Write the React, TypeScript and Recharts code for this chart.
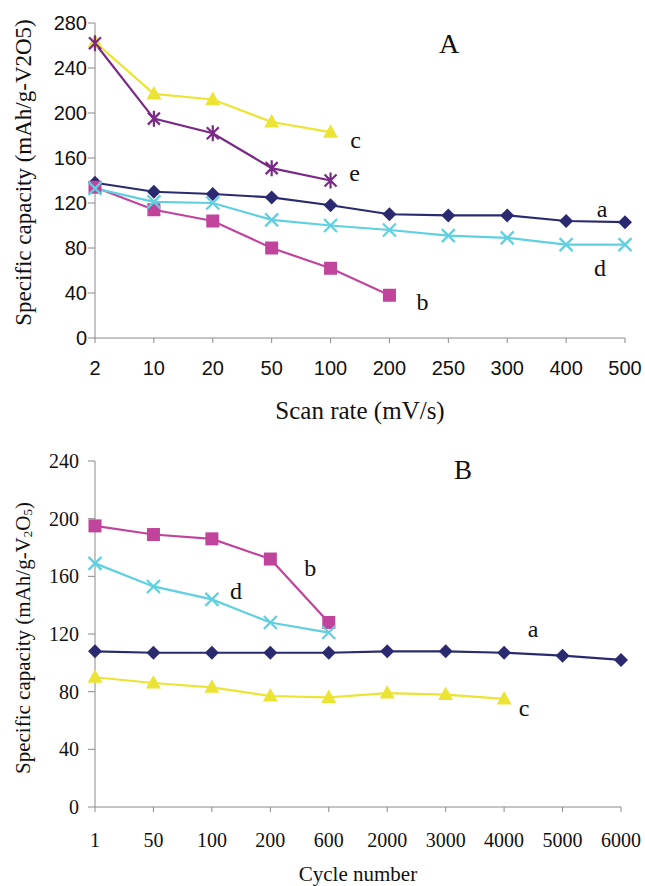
import { LineChart, Line, XAxis, YAxis } from 'recharts';

// panel A: capacity vs scan rate
const rateCategories = ['2', '10', '20', '50', '100', '200', '250', '300', '400', '500'];
const rateA = [138, 130, 128, 125, 118, 110, 109, 109, 104, 103];
const rateB = [134, 114, 104, 80, 62, 38];
const rateC = [263, 217, 212, 192, 183];
const rateD = [133, 121, 120, 105, 100, 96, 91, 89, 83, 83];
const rateE = [262, 195, 182, 151, 140];
const rateTicks = [0, 40, 80, 120, 160, 200, 240, 280];

// panel B: capacity vs cycle number
const cycleCategories = ['1', '50', '100', '200', '600', '2000', '3000', '4000', '5000', '6000'];
const cycleA = [108, 107, 107, 107, 107, 108, 108, 107, 105, 102];
const cycleB = [195, 189, 186, 172, 128];
const cycleC = [90, 86, 83, 77, 76, 79, 78, 75];
const cycleD = [169, 153, 144, 128, 121];
const cycleTicks = [0, 40, 80, 120, 160, 200, 240];

const NAVY = '#2b2a70';
const MAGENTA = '#c1449c';
const YELLOW = '#ebe434';
const CYAN = '#5fd0e0';
const PURPLE = '#7a2a86';
const AXIS = '#8a8a8a';
const SERIF = '"Liberation Serif", "Times New Roman", serif';
const SANS = '"Liberation Sans", Arial, sans-serif';

type Row = Record<string, string | number | null>;

function buildRows(cats: string[], series: Record<string, number[]>): Row[] {
  return cats.map((cat, i) => {
    const row: Row = { cat };
    for (const k of Object.keys(series)) row[k] = series[k][i] ?? null;
    return row;
  });
}

const rateRows = buildRows(rateCategories, { a: rateA, b: rateB, c: rateC, d: rateD, e: rateE });
const cycleRows = buildRows(cycleCategories, { a: cycleA, b: cycleB, c: cycleC, d: cycleD });

type Shape = 'diamond' | 'square' | 'triangle' | 'cross' | 'star';
type Tag = { text: string; index: number; dx: number; dy: number };

function marker(shape: Shape, x: number, y: number, color: string) {
  switch (shape) {
    case 'diamond':
      return <path d={`M${x},${y - 7}L${x + 7},${y}L${x},${y + 7}L${x - 7},${y}Z`} fill={color} />;
    case 'square':
      return <rect x={x - 6.5} y={y - 6.5} width={13} height={13} fill={color} />;
    case 'triangle':
      return <path d={`M${x},${y - 8}L${x + 7.5},${y + 5.5}L${x - 7.5},${y + 5.5}Z`} fill={color} />;
    case 'cross':
      return (
        <path d={`M${x - 6.5},${y - 6.5}L${x + 6.5},${y + 6.5}M${x + 6.5},${y - 6.5}L${x - 6.5},${y + 6.5}`}
          stroke={color} strokeWidth={2.2} />
      );
    case 'star':
      return (
        <path
          d={`M${x - 6},${y - 6}L${x + 6},${y + 6}M${x + 6},${y - 6}L${x - 6},${y + 6}M${x},${y - 8}L${x},${y + 8}`}
          stroke={color} strokeWidth={2.2} />
      );
  }
}

function makeDot(shape: Shape, color: string, tag: Tag, tagSize: number) {
  return (props: any) => {
    const { cx, cy, index } = props;
    if (cx == null || cy == null || props.value == null) return <g key={`n-${index}`} />;
    return (
      <g key={`p-${index}`}>
        {marker(shape, cx, cy, color)}
        {tag.index === index && (
          <text x={cx + tag.dx} y={cy + tag.dy} textAnchor="middle" dominantBaseline="central"
            fontFamily={SERIF} fontSize={tagSize} fill="#111">
            {tag.text}
          </text>
        )}
      </g>
    );
  };
}

function xTitle(text: string, dy: number, size: number) {
  return (props: any) => {
    const vb = props.viewBox;
    return (
      <text x={vb.x + vb.width / 2} y={vb.y + dy} textAnchor="middle" dominantBaseline="central"
        fontFamily={SERIF} fontSize={size} fill="#111">
        {text}
      </text>
    );
  };
}

function yTitle(content: React.ReactNode, dx: number, dy: number, size: number) {
  return (props: any) => {
    const vb = props.viewBox;
    const x = vb.x + dx;
    const y = vb.y + vb.height / 2 + dy;
    return (
      <text x={x} y={y} transform={`rotate(-90, ${x}, ${y})`} textAnchor="middle" dominantBaseline="central"
        fontFamily={SERIF} fontSize={size} fill="#111">
        {content}
      </text>
    );
  };
}

function RateChart() {
  return (
    <LineChart width={645} height={430} data={rateRows} margin={{ top: 23, right: 20, bottom: 0, left: 0 }}>
      <XAxis dataKey="cat" scale="point" interval={0} height={92}
        axisLine={{ stroke: AXIS }} tickLine={{ stroke: AXIS }} tickSize={5} tickMargin={18}
        tick={{ fontSize: 20, fill: '#111', fontFamily: SANS }}
        label={xTitle('Scan rate (mV/s)', 72, 25)} />
      <YAxis type="number" domain={[0, 280]} ticks={rateTicks} interval={0} width={95}
        axisLine={{ stroke: AXIS }} tickLine={{ stroke: AXIS }} tickSize={7} tickMargin={1}
        tick={{ fontSize: 20, fill: '#111', fontFamily: SANS }}
        label={yTitle('Specific capacity (mAh/g-V2O5)', 23, -8, 23)} />
      <Line dataKey="a" stroke={NAVY} strokeWidth={2.2} isAnimationActive={false}
        dot={makeDot('diamond', NAVY, { text: 'a', index: 9, dx: -23, dy: -13 }, 24)} />
      <Line dataKey="b" stroke={MAGENTA} strokeWidth={2.2} isAnimationActive={false}
        dot={makeDot('square', MAGENTA, { text: 'b', index: 5, dx: 33, dy: 7 }, 24)} />
      <Line dataKey="d" stroke={CYAN} strokeWidth={2.2} isAnimationActive={false}
        dot={makeDot('cross', CYAN, { text: 'd', index: 9, dx: -25, dy: 23 }, 24)} />
      <Line dataKey="c" stroke={YELLOW} strokeWidth={2.2} isAnimationActive={false}
        dot={makeDot('triangle', YELLOW, { text: 'c', index: 4, dx: 25, dy: 8 }, 24)} />
      <Line dataKey="e" stroke={PURPLE} strokeWidth={2.2} isAnimationActive={false}
        dot={makeDot('star', PURPLE, { text: 'e', index: 4, dx: 24, dy: -8 }, 24)} />
    </LineChart>
  );
}

function CycleChart() {
  const yLabel = (
    <>
      <tspan>Specific capacity (mAh/g-V</tspan>
      <tspan fontSize={13} dy={4}>2</tspan>
      <tspan dy={-4}>O</tspan>
      <tspan fontSize={13} dy={4}>5</tspan>
      <tspan dy={-4}>)</tspan>
    </>
  );
  return (
    <LineChart width={645} height={456} data={cycleRows} margin={{ top: 31, right: 24, bottom: 0, left: 0 }}>
      <XAxis dataKey="cat" scale="point" interval={0} height={79}
        axisLine={{ stroke: AXIS }} tickLine={{ stroke: AXIS }} tickSize={5} tickMargin={21}
        tick={{ fontSize: 20, fill: '#111', fontFamily: SERIF }}
        label={xTitle('Cycle number', 67, 21)} />
      <YAxis type="number" domain={[0, 240]} ticks={cycleTicks} interval={0} width={95}
        axisLine={{ stroke: AXIS }} tickLine={{ stroke: AXIS }} tickSize={7} tickMargin={9}
        tick={{ fontSize: 20, fill: '#111', fontFamily: SERIF }}
        label={yTitle(yLabel, 23, 4, 21)} />
      <Line dataKey="a" stroke={NAVY} strokeWidth={2.2} isAnimationActive={false}
        dot={makeDot('diamond', NAVY, { text: 'a', index: 7, dx: 29, dy: -24 }, 24)} />
      <Line dataKey="c" stroke={YELLOW} strokeWidth={2.2} isAnimationActive={false}
        dot={makeDot('triangle', YELLOW, { text: 'c', index: 7, dx: 20, dy: 9 }, 24)} />
      <Line dataKey="b" stroke={MAGENTA} strokeWidth={2.2} isAnimationActive={false}
        dot={makeDot('square', MAGENTA, { text: 'b', index: 3, dx: 40, dy: 9 }, 24)} />
      <Line dataKey="d" stroke={CYAN} strokeWidth={2.2} isAnimationActive={false}
        dot={makeDot('cross', CYAN, { text: 'd', index: 2, dx: 24, dy: -8 }, 24)} />
    </LineChart>
  );
}

export default function App() {
  return (
    <div style={{ position: 'absolute', left: 0, top: 0, width: 645, height: 886, background: '#fff', overflow: 'hidden' }}>
      <RateChart />
      <CycleChart />
      <svg width={645} height={886} style={{ position: 'absolute', left: 0, top: 0, pointerEvents: 'none' }}>
        <text x={449} y={43} textAnchor="middle" dominantBaseline="central" fontFamily={SERIF} fontSize={28} fill="#111">A</text>
        <text x={463} y={470} textAnchor="middle" dominantBaseline="central" fontFamily={SERIF} fontSize={27} fill="#111">B</text>
      </svg>
    </div>
  );
}
